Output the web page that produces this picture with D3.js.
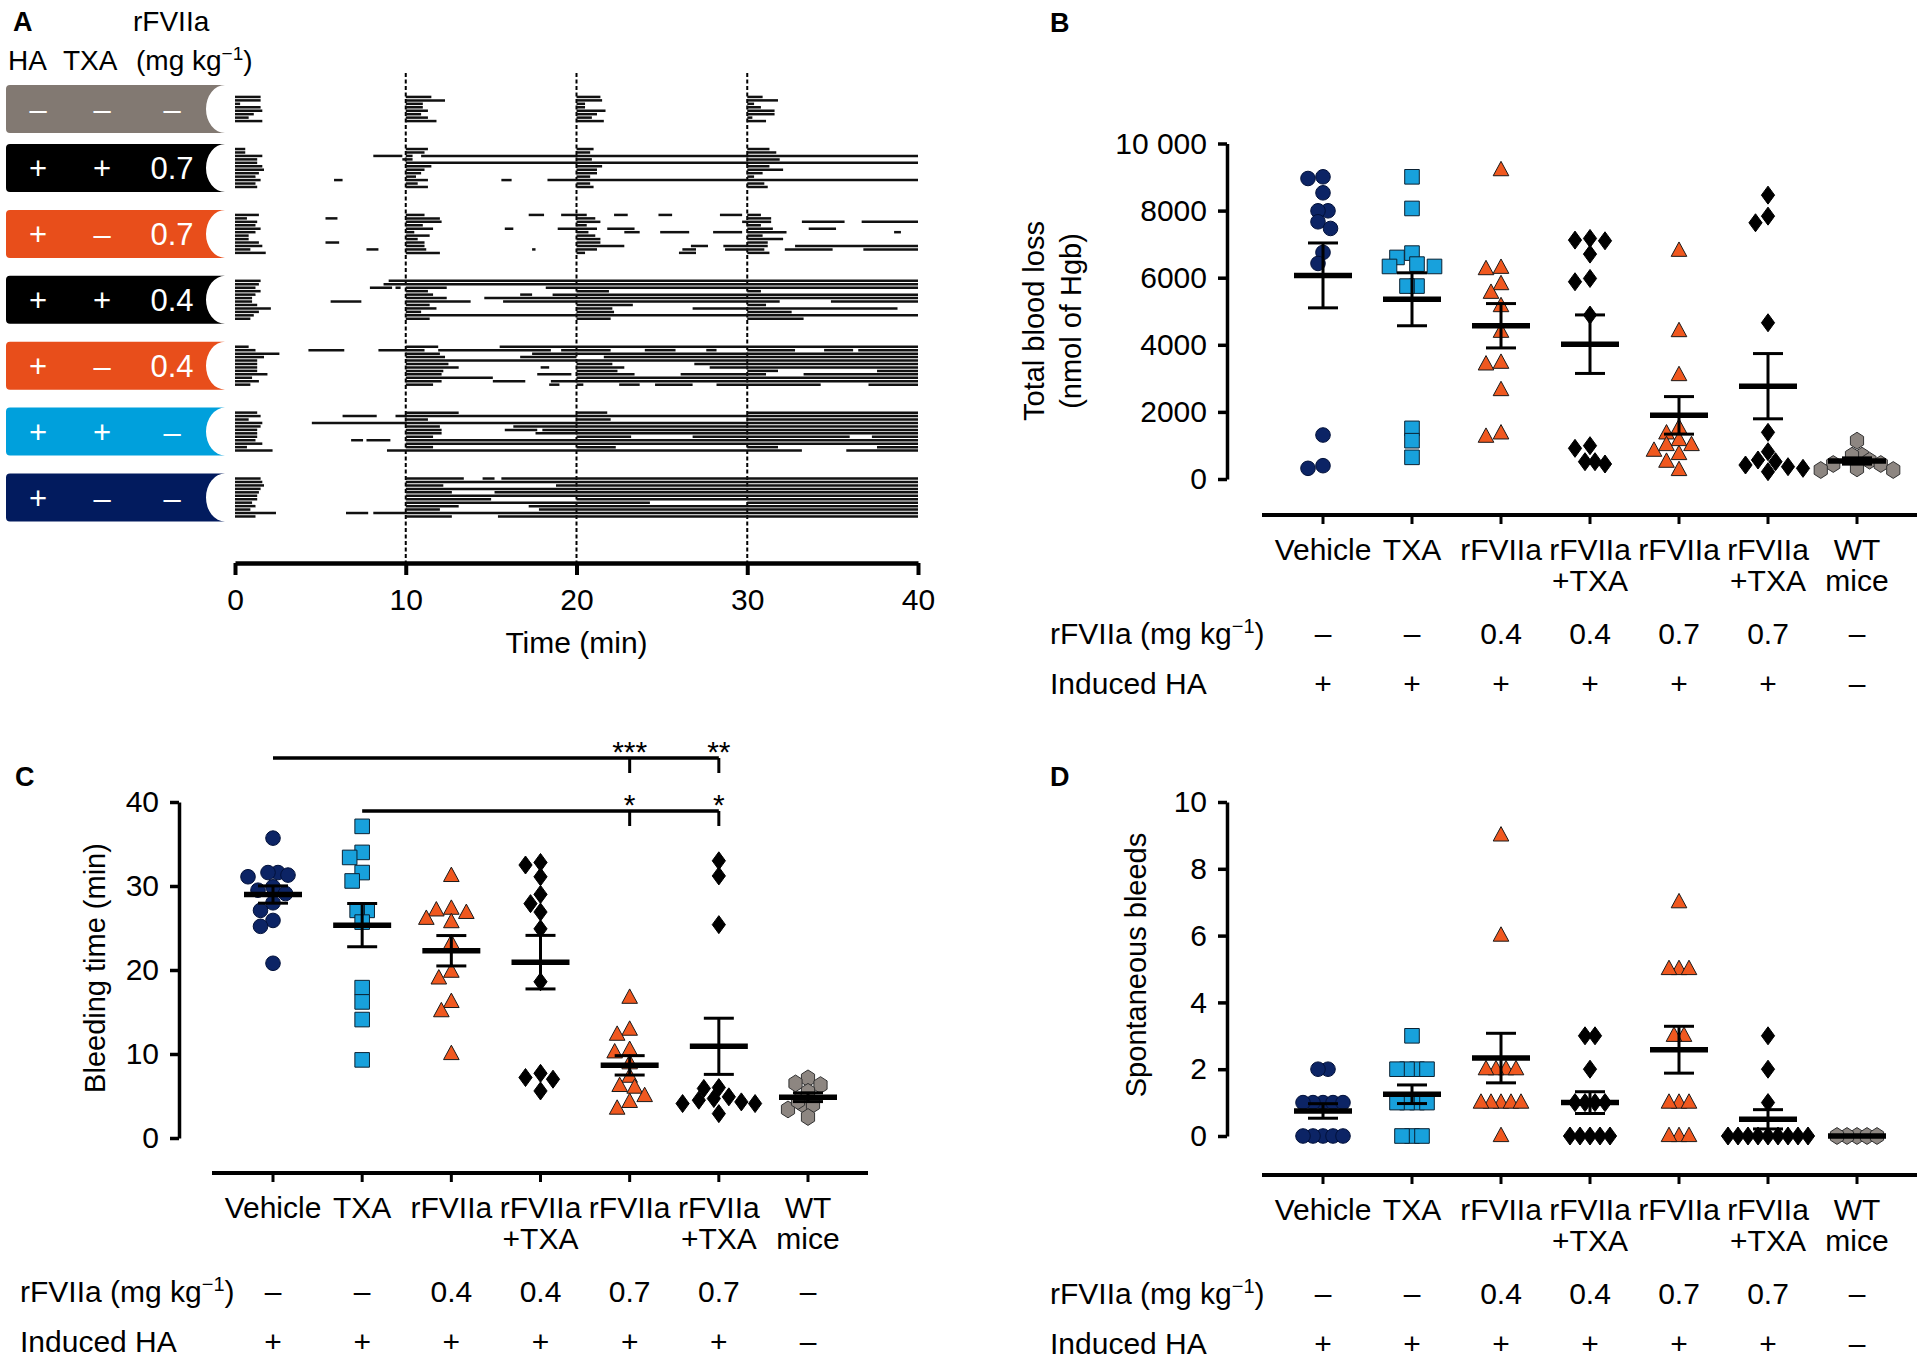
<!DOCTYPE html>
<html><head><meta charset="utf-8">
<script src="https://cdn.jsdelivr.net/npm/d3@7"></script>
<style>
body{margin:0;background:#fff;}
svg{display:block;font-family:"Liberation Sans",Arial,Helvetica,sans-serif;}
</style></head><body>
<svg id="c" width="1920" height="1364"></svg>
<script>
// ================= DATA =================
// Panel A – bleeding episodes per mouse, [start, end] in minutes
const timeTicks = [0, 10, 20, 30, 40];
const rowHA   = ["–", "+", "+", "+", "+", "+", "+"];
const rowTXA  = ["–", "+", "–", "+", "–", "+", "–"];
const rowDose = ["–", "0.7", "0.7", "0.4", "0.4", "–", "–"];

const bleedsCtrl = [
  [[0,1.5],[10,11.5],[20,21.4],[30,30.9]],
  [[0,1.5],[10,12.3],[20,21.5],[30,31.8]],
  [[0,0.3],[10,11.0],[20,20.5],[30,30.4]],
  [[0,1.5],[10,11.0],[20,20.5],[30,30.8]],
  [[0,1.6],[10,11.3],[20,21.7],[30,31.6]],
  [[0,1.1],[10,10.9],[20,21.2],[30,31.6]],
  [[0,0.8],[10,11.3],[20,20.9],[30,30.3]],
  [[0,1.6],[10,11.8],[20,21.6],[30,31.1]]
];
const bleedsTxaHi = [
  [[0,0.6],[10,11.3],[20,21.0],[30,31.3]],
  [[0,0.6],[10,11.1],[20,20.8],[30,31.7]],
  [[0,1.6],[8.1,9.8],[10,10.4],[10.9,40]],
  [[0,1.3],[9.8,10.4],[20,20.9],[30,31.9]],
  [[0,1.3],[10,40]],
  [[0,1.6],[10,11.5],[20,21.5],[30,31.3]],
  [[0,1.7],[10,11.1],[20,21.2],[30,32.1]],
  [[0,1.4],[10,10.9],[20,21.2],[30,30.9]],
  [[0,1.2],[10,10.6],[20,20.8],[30,30.4]],
  [[0,1.5],[5.8,6.3],[10,11.3],[15.6,16.2],[18.3,40]],
  [[0,1.2],[10,10.7],[20,20.8],[30,31.0]],
  [[0,1.3],[10,11.3],[20,21.0],[30,31.2]]
];
const bleedsHi = [
  [[0,1.4],[10,11.1],[17.2,18.1],[19.1,20.6],[22.2,23.0],[24.8,25.6],[28.4,29.7],[30,30.8]],
  [[0,0.7],[5.3,6.0],[10,12.0],[20,21.1],[30,31.4]],
  [[0,1.3],[10,12.1],[20,21.4],[29.7,31.4],[33.2,35.7],[36.7,40]],
  [[0,1.2],[10,11.0],[20,20.6],[30,30.8]],
  [[0,1.5],[10,11.6],[15.8,16.3],[18.9,21.2],[21.8,23.4],[30,31.5],[33.6,35.2]],
  [[0,1.2],[10,10.5],[20,20.7],[22.8,23.7],[24.9,26.6],[28.0,29.7],[30,32.3],[38.6,39.0]],
  [[0,0.8],[10,11.4],[20,21.1],[30,30.9]],
  [[0,0.8],[10,10.7],[20,21.4],[30,32.1]],
  [[0,1.4],[5.3,6.1],[10,11.1],[20,21.4],[30,31.2]],
  [[0,1.6],[10,11.1],[20,22.8],[26.7,27.7],[28.6,31.2],[32.8,40]],
  [[0,0.9],[7.7,8.4],[10,11.2],[17.4,17.6],[20,21.2],[26.2,27.0],[28.7,31.0],[32.2,35.0],[36.8,40]],
  [[0,1.8],[10,12.0],[20,20.5],[26.0,27.0],[30,31.3]]
];
const bleedsTxaLo = [
  [[0,1.5],[9.0,40]],
  [[0,1.4],[8.7,40]],
  [[0,1.2],[7.9,9.2],[9.4,9.7],[10,12.4],[18.2,40]],
  [[0,1.5],[10,11.3],[20,21.9],[30,30.8]],
  [[0,1.2],[10,11.6],[16.7,17.4],[18.6,40]],
  [[0,1.0],[10,12.4],[14.6,40]],
  [[0,1.0],[5.6,7.4],[10,13.8],[15.7,31.9],[34.9,40]],
  [[0,1.3],[10,11.4],[20,23.3],[30,31.1]],
  [[0,2.1],[10,11.8],[20,22.1],[26.8,38.8]],
  [[0,1.4],[10,10.9],[20,22.2],[30,32.6]],
  [[0,1.1],[10,40]],
  [[0,0.9],[10,11.4],[20,22.0],[30,33.3]]
];
const bleedsLo = [
  [[0,0.8],[10,11.9],[15.5,40]],
  [[0,1.2],[4.3,6.4],[8.4,11.1],[11.9,18.5],[19.1,22.0],[24.0,25.8],[27.6,28.2],[30,32.8],[34.5,36.2],[36.5,40]],
  [[0,2.6],[10,12.0],[17.4,40]],
  [[0,1.7],[10,12.3],[16.7,20.0],[21.6,40]],
  [[0,1.3],[10,40]],
  [[0,1.3],[10,12.5],[20,22.1],[26.9,40]],
  [[0,1.3],[10,13.1],[17.9,18.4],[20,22.8],[27.8,40]],
  [[0,1.3],[10,12.2],[20,22.4],[30,31.8],[37.6,40]],
  [[0,1.9],[10,12.1],[17.7,19.7],[20,23.4],[26.1,31.1],[33.3,40]],
  [[0,1.0],[10,15.1],[20,40]],
  [[0,1.4],[10,12.1],[15.1,17.0],[18.5,40]],
  [[0,0.9],[10,11.6],[18.4,19.0],[20,20.4],[22.5,23.7],[24.6,26.8],[28.2,34.3],[37.1,40]]
];
const bleedsTxa = [
  [[0,1.3],[10,13.1],[20,21.8],[30,40]],
  [[0,1.5],[6.3,8.3],[9.4,40]],
  [[0,0.8],[10,11.3],[20,22.0],[30,40]],
  [[0,1.6],[4.5,40]],
  [[0,1.5],[10,12.0],[16.3,40]],
  [[0,1.3],[10,12.1],[15.8,17.7],[18.0,40]],
  [[0,1.3],[10,12.1],[17.6,40]],
  [[0,1.3],[10,11.6],[20,23.2],[26.8,36.0],[37.3,40]],
  [[0,1.2],[6.8,7.5],[7.7,9.1],[10,40]],
  [[0,1.6],[10,40]],
  [[0,0.7],[10,11.6],[20,22.3],[30,31.8],[37.6,40]],
  [[0,2.2],[8.9,33.2],[35.8,40]]
];
const bleedsVeh = [
  [[0,1.5],[10,13.4],[14.5,15.2],[15.6,40]],
  [[0,1.6],[10,40]],
  [[0,1.7],[10,12.2],[18.8,40]],
  [[0,1.5],[10,40]],
  [[0,1.4],[10,12.7],[15.2,40]],
  [[0,1.3],[10,40]],
  [[0,1.3],[10,15.0],[20,40]],
  [[0,1.0],[10,24.3],[30,40]],
  [[0,1.2],[10,13.1],[17.2,40]],
  [[0,0.9],[10,12.0],[17.8,40]],
  [[0,2.4],[6.5,7.8],[8.1,40]],
  [[0,1.2],[10,12.7],[15.4,40]]
];

// Panels B–D categories
const catLines  = [["Vehicle"], ["TXA"], ["rFVIIa"], ["rFVIIa", "+TXA"], ["rFVIIa"], ["rFVIIa", "+TXA"], ["WT", "mice"]];
const doseLabels = ["–", "–", "0.4", "0.4", "0.7", "0.7", "–"];
const haLabels   = ["+", "+", "+", "+", "+", "+", "–"];

// Panel B – total blood loss (nmol Hgb)
const bloodLoss = [
  [8957, 9007, 8530, 7994, 7994, 7666, 7468, 6753, 6425, 1311, 397, 318],
  [9007, 8064, 6604, 6733, 6335, 6335, 6405, 5750, 5750, 1509, 1142, 646],
  [9206, 6256, 6296, 5809, 5551, 5154, 4389, 3416, 3466, 2651, 1261, 1360],
  [7120, 7100, 7170, 6703, 5978, 5879, 4886, 993, 914, 516, 447, 516],
  [6803, 4409, 3098, 1529, 1360, 1162, 1013, 1013, 844, 745, 516, 268],
  [8461, 7637, 7835, 4657, 1390, 814, 516, 367, 218, 318, 417, 566],
  [1142, 695, 695, 547, 447, 447, 318, 268, 268]
];
const bTicks = [0, 2000, 4000, 6000, 8000, 10000];
const bTickLabels = ["0", "2000", "4000", "6000", "8000", "10 000"];

// Panel C – bleeding time (min)
const bleedTime = [
  [35.7, 31.6, 31.3, 31.1, 31.6, 29.9, 29.5, 29.1, 28.0, 27.1, 25.9, 25.2, 20.8],
  [37.1, 34.0, 33.4, 31.6, 30.6, 27.1, 27.1, 25.7, 17.9, 16.2, 14.1, 9.3],
  [31.2, 27.3, 26.8, 27.1, 25.7, 26.1, 23.2, 19.0, 19.8, 16.2, 15.1, 10.0],
  [32.8, 32.5, 31.1, 29.0, 27.9, 26.9, 24.9, 18.6, 7.2, 7.7, 7.0, 5.6],
  [16.7, 12.9, 12.3, 10.5, 10.2, 8.9, 7.3, 6.2, 6.0, 5.0, 4.3, 3.5],
  [33.0, 31.2, 25.4, 6.0, 5.9, 4.9, 4.7, 4.5, 4.3, 4.1, 4.1, 2.9],
  [7.1, 6.3, 6.5, 5.5, 4.0, 3.4, 4.0, 4.4, 2.5]
];
const cTicks = [0, 10, 20, 30, 40];
const cSignif = [
  {from: 0, to: [4, 5], stars: ["***", "**"]},
  {from: 1, to: [4, 5], stars: ["*", "*"]}
];

// Panel D – spontaneous bleeds
const spontBleeds = [
  [2, 2, 1, 1, 1, 1, 1, 0, 0, 0, 0, 0],
  [3, 2, 2, 2, 2, 1, 1, 1, 1, 0, 0, 0],
  [9, 6, 2, 2, 2, 2, 1, 1, 1, 1, 1, 0],
  [3, 3, 2, 1, 1, 1, 1, 0, 0, 0, 0, 0],
  [7, 5, 5, 5, 3, 3, 1, 1, 1, 0, 0, 0],
  [3, 2, 1, 0, 0, 0, 0, 0, 0, 0, 0, 0],
  [0, 0, 0, 0, 0]
];
const dTicks = [0, 2, 4, 6, 8, 10];

// ================= STYLE =================
const rowColors = ["#827972", "#000000", "#e84e1b", "#000000", "#e84e1b", "#00a0dc", "#021b5e"];
const markerKinds = ["circle", "square", "triangle", "diamond", "triangle", "diamond", "hexagon"];
const markerFill  = ["#0c2465", "#18a1dc", "#f0581f", "#000000", "#f0581f", "#000000", "#8d8681"];
const markerStroke= ["#02113a", "#0b2233", "#1a1a1a", "#000000", "#1a1a1a", "#000000", "#333333"];

const svg = d3.select("#c");

// ================= PANEL A =================
const xT = d3.scaleLinear().domain([0, 40]).range([235, 918]);
const groupsA = [bleedsCtrl, bleedsTxaHi, bleedsHi, bleedsTxaLo, bleedsLo, bleedsTxa, bleedsVeh];
const laneStep = 3.45, groupGap = 24.5;
const centers = [];
{
  let c = 109, prevHalf = 0;
  groupsA.forEach((g, i) => {
    const half = g.length * laneStep / 2;
    if (i > 0) c += prevHalf + groupGap + half;
    centers.push(c); prevHalf = half;
  });
}
const gA = svg.append("g");
// header
gA.append("text").attr("x", 13).attr("y", 31).attr("font-size", 27).attr("font-weight", "bold").text("A");
gA.append("text").attr("x", 133).attr("y", 31).attr("font-size", 28).text("rFVIIa");
gA.append("text").attr("x", 8).attr("y", 70).attr("font-size", 28).text("HA");
gA.append("text").attr("x", 63).attr("y", 70).attr("font-size", 28).text("TXA");
{
  const t = gA.append("text").attr("x", 136).attr("y", 70).attr("font-size", 28);
  t.append("tspan").text("(mg kg");
  t.append("tspan").attr("dy", -10).attr("font-size", 19).text("−1");
  t.append("tspan").attr("dy", 10).text(")");
}
// label boxes
const bx0 = 6, bx1 = 225, bh = 48, notchRx = 19;
centers.forEach((c, i) => {
  const y0 = c - bh / 2, y1 = c + bh / 2, r = 4;
  const p = `M${bx0 + r},${y0}H${bx1}A${notchRx},${bh / 2} 0 0 0 ${bx1},${y1}H${bx0 + r}Q${bx0},${y1} ${bx0},${y1 - r}V${y0 + r}Q${bx0},${y0} ${bx0 + r},${y0}Z`;
  gA.append("path").attr("d", p).attr("fill", rowColors[i]);
  [[38, rowHA[i]], [102, rowTXA[i]], [172, rowDose[i]]].forEach(([x, s]) => {
    gA.append("text").attr("x", x).attr("y", c + 11).attr("text-anchor", "middle")
      .attr("font-size", 31).attr("fill", "#fff").text(s);
  });
});
// dashed reference lines
[10, 20, 30].forEach(t => {
  gA.append("line").attr("x1", xT(t)).attr("x2", xT(t)).attr("y1", 73).attr("y2", 563)
    .attr("stroke", "#000").attr("stroke-width", 2).attr("stroke-dasharray", "4,2.5");
});
// bleeding segments
groupsA.forEach((g, gi) => {
  const n = g.length;
  g.forEach((segs, mi) => {
    const y = centers[gi] + (mi - (n - 1) / 2) * laneStep;
    segs.forEach(([s, e]) => {
      gA.append("line").attr("x1", xT(s)).attr("x2", xT(e)).attr("y1", y).attr("y2", y)
        .attr("stroke", "#111").attr("stroke-width", 2.5);
    });
  });
});
// time axis
{
  const ax = gA.append("g").attr("transform", "translate(0,563)")
    .call(d3.axisBottom(xT).tickValues(timeTicks).tickSize(12).tickSizeOuter(0).tickPadding(14));
  ax.select(".domain").attr("stroke-width", 4.5);
  ax.selectAll(".tick line").attr("stroke-width", 4);
  ax.selectAll(".tick text").attr("font-size", 30).attr("font-family", "Liberation Sans, Arial, sans-serif").attr("fill", "#000");
  gA.append("text").attr("x", (xT(0) + xT(40)) / 2).attr("y", 653).attr("text-anchor", "middle")
    .attr("font-size", 30).text("Time (min)");
}

// ================= SCATTER PANELS =================
function markerPath(kind) {
  switch (kind) {
    case "circle": return d3.symbol(d3.symbolCircle, Math.PI * 7.3 * 7.3)();
    case "square": return "M-7.3,-7.3H7.3V7.3H-7.3Z";
    case "triangle": return "M0,-8.8L7.8,5.6H-7.8Z";
    case "diamond": return "M0,-9L6.6,0L0,9L-6.6,0Z";
    case "hexagon": {
      const pts = d3.range(6).map(k => { const a = Math.PI / 6 + k * Math.PI / 3; return [7.6 * Math.cos(a), 8.4 * Math.sin(a)]; });
      return "M" + pts.map(p => p.join(",")).join("L") + "Z";
    }
  }
}

// simple beeswarm: identical values sit in a tight centred row, others avoid overlap
function swarm(vals, y, sx, sy, tieGap) {
  const idx = vals.map((v, i) => i).sort((a, b) => vals[b] - vals[a]);
  const placed = [], off = new Array(vals.length);
  const step = 2.5;
  for (const i of idx) {
    const py = y(vals[i]), v = vals[i];
    for (let k = 0; k < 200; k++) {
      const cands = k === 0 ? [0] : [-k * step, k * step];
      let ok = null;
      for (const dx of cands) {
        const clear = placed.every(p => p.v === v
          ? Math.abs(p.dx - dx) >= tieGap
          : ((p.dx - dx) / sx) ** 2 + ((p.py - py) / sy) ** 2 >= 1);
        if (clear) { ok = dx; break; }
      }
      if (ok !== null) { off[i] = ok; placed.push({dx: ok, py, v}); break; }
    }
  }
  const ties = d3.group(idx, i => vals[i]);
  for (const [, ids] of ties) {
    if (ids.length > 1) { const m = d3.mean(ids, i => off[i]); ids.forEach(i => off[i] -= m); }
  }
  return off;
}

function scatterPanel(o) {
  const g = svg.append("g");
  const x = d3.scalePoint().domain(d3.range(o.values.length)).range(o.xr);
  const y = d3.scaleLinear().domain(o.yDomain).range(o.yRange);
  // letter
  g.append("text").attr("x", o.letter[1]).attr("y", o.letter[2]).attr("font-size", 27)
    .attr("font-weight", "bold").text(o.letter[0]);
  // y axis
  const ay = g.append("g").attr("transform", `translate(${o.axisX},0)`)
    .call(d3.axisLeft(y).tickValues(o.yTicks).tickFormat((d, i) => o.yLabels[i]).tickSize(9).tickSizeOuter(0).tickPadding(11));
  ay.select(".domain").attr("stroke-width", 3.5);
  ay.selectAll(".tick line").attr("stroke-width", 3.5);
  ay.selectAll(".tick text").attr("font-size", 30).attr("font-family", "Liberation Sans, Arial, sans-serif").attr("fill", "#000");
  // y title
  o.title.forEach((t, i) => {
    g.append("text").attr("transform", `translate(${o.titleX[i]},${o.titleY}) rotate(-90)`)
      .attr("text-anchor", "middle").attr("dy", "0.36em").attr("font-size", 29).text(t);
  });
  // category axis
  const xa = o.xAxisY;
  g.append("line").attr("x1", o.xr[0] - 61).attr("x2", o.xr[1] + 60).attr("y1", xa).attr("y2", xa)
    .attr("stroke", "#000").attr("stroke-width", 4);
  o.values.forEach((v, i) => {
    g.append("line").attr("x1", x(i)).attr("x2", x(i)).attr("y1", xa).attr("y2", xa + 9)
      .attr("stroke", "#000").attr("stroke-width", 3);
    catLines[i].forEach((s, li) => {
      g.append("text").attr("x", x(i)).attr("y", xa + 45 + li * 31).attr("text-anchor", "middle")
        .attr("font-size", 30).text(s);
    });
    g.append("text").attr("x", x(i)).attr("y", xa + 129).attr("text-anchor", "middle").attr("font-size", 30).text(doseLabels[i]);
    g.append("text").attr("x", x(i)).attr("y", xa + 179).attr("text-anchor", "middle").attr("font-size", 30).text(haLabels[i]);
  });
  {
    const t = g.append("text").attr("x", o.rowLabelX).attr("y", xa + 129).attr("font-size", 30);
    t.append("tspan").text("rFVIIa (mg kg");
    t.append("tspan").attr("dy", -11).attr("font-size", 20).text("−1");
    t.append("tspan").attr("dy", 11).text(")");
    g.append("text").attr("x", o.rowLabelX).attr("y", xa + 179).attr("font-size", 30).text("Induced HA");
  }
  // markers
  o.values.forEach((vals, i) => {
    const off = swarm(vals, y, 13.5, 11.5, 10);
    const path = markerPath(markerKinds[i]);
    vals.forEach((v, j) => {
      g.append("path").attr("d", path)
        .attr("transform", `translate(${x(i) + off[j]},${y(v)})`)
        .attr("fill", markerFill[i]).attr("stroke", markerStroke[i]).attr("stroke-width", 1);
    });
  });
  // mean ± SEM
  o.values.forEach((vals, i) => {
    const m = d3.mean(vals), sd = d3.deviation(vals) || 0, se = sd / Math.sqrt(vals.length);
    const cx = x(i);
    g.append("line").attr("x1", cx).attr("x2", cx).attr("y1", y(m + se)).attr("y2", y(m - se))
      .attr("stroke", "#000").attr("stroke-width", 3);
    [m + se, m - se].forEach(v => g.append("line").attr("x1", cx - 15).attr("x2", cx + 15)
      .attr("y1", y(v)).attr("y2", y(v)).attr("stroke", "#000").attr("stroke-width", 3));
    g.append("line").attr("x1", cx - 29).attr("x2", cx + 29).attr("y1", y(m)).attr("y2", y(m))
      .attr("stroke", "#000").attr("stroke-width", 5.5);
  });
  return {g, x, y};
}

// Panel B
scatterPanel({
  values: bloodLoss, xr: [1323, 1857], axisX: 1227,
  yDomain: [0, 10000], yRange: [479, 143.5], yTicks: bTicks, yLabels: bTickLabels,
  title: ["Total blood loss", "(nmol of Hgb)"], titleX: [1034, 1071], titleY: 321,
  xAxisY: 515, rowLabelX: 1050, letter: ["B", 1050, 32]
});

// Panel C
const pc = scatterPanel({
  values: bleedTime, xr: [273, 808], axisX: 179,
  yDomain: [0, 40], yRange: [1138, 802], yTicks: cTicks, yLabels: cTicks.map(String),
  title: ["Bleeding time (min)"], titleX: [95], titleY: 968,
  xAxisY: 1173, rowLabelX: 20, letter: ["C", 15, 786]
});
{
  const barY = [758, 811], tickLen = 15, starY = [762, 815];
  cSignif.forEach((s, k) => {
    const x0 = pc.x(s.from), x1 = pc.x(s.to[s.to.length - 1]);
    pc.g.append("line").attr("x1", x0).attr("x2", x1).attr("y1", barY[k]).attr("y2", barY[k])
      .attr("stroke", "#000").attr("stroke-width", 3.5);
    s.to.forEach((t, j) => {
      pc.g.append("line").attr("x1", pc.x(t)).attr("x2", pc.x(t)).attr("y1", barY[k]).attr("y2", barY[k] + tickLen)
        .attr("stroke", "#000").attr("stroke-width", 3);
      pc.g.append("text").attr("x", pc.x(t)).attr("y", starY[k]).attr("text-anchor", "middle")
        .attr("font-size", 30).text(s.stars[j]);
    });
  });
}

// Panel D
scatterPanel({
  values: spontBleeds, xr: [1323, 1857], axisX: 1227,
  yDomain: [0, 10], yRange: [1136, 802], yTicks: dTicks, yLabels: dTicks.map(String),
  title: ["Spontaneous bleeds"], titleX: [1136], titleY: 965,
  xAxisY: 1175, rowLabelX: 1050, letter: ["D", 1050, 786]
});
</script></body></html>
